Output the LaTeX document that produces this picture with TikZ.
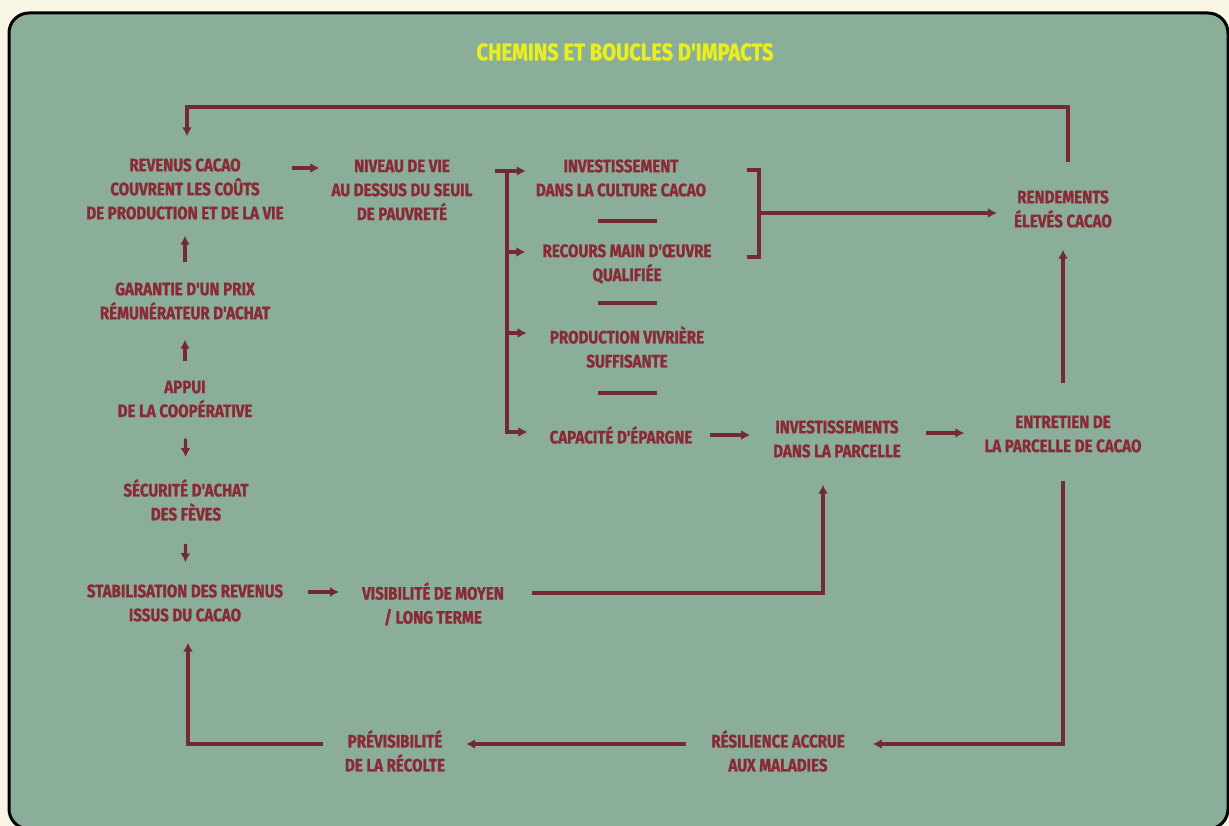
\documentclass[tikz,border=0pt]{standalone}
\usepackage{fontspec}
\usetikzlibrary{arrows.meta,calc}
\newfontfamily\condfont{Fira Sans}[FakeStretch=0.84, BoldFeatures={FakeBold=1.2}]
\newfontfamily\titlefont{Fira Sans}[FakeStretch=0.84, BoldFeatures={FakeBold=1.2}]
\definecolor{cream}{RGB}{249,245,229}
\definecolor{panel}{RGB}{139,174,155}
\definecolor{txtred}{RGB}{138,42,54}
\definecolor{linered}{RGB}{115,42,50}
\definecolor{titleyellow}{RGB}{232,238,32}
\begin{document}
\begin{tikzpicture}[x=1pt,y=-1pt,
  lbl/.style={font=\condfont\bfseries\fontsize{18}{24}\selectfont, text=txtred, align=center, inner sep=0pt},
  conn/.style={draw=linered, line width=3.2pt, -{Latex[length=9pt,width=10pt]}},
  plain/.style={draw=linered, line width=3.2pt}]
\useasboundingbox (0,0) rectangle (1229,826);
\begin{scope}
\clip (0,0) rectangle (1229,826);
\fill[cream] (0,0) rectangle (1229,826);
\draw[black, line width=3pt, fill=panel, rounded corners=20pt] (9,13) rectangle (1228,829);
\end{scope}
\node[font=\titlefont\bfseries\fontsize{24}{26}\selectfont, text=titleyellow, inner sep=0pt] (title) at (625,52) {CHEMINS ET BOUCLES D'IMPACTS};
% left column
\node[lbl] (rev) at (185,189) {REVENUS CACAO\\COUVRENT LES COÛTS\\DE PRODUCTION ET DE LA VIE};
\node[lbl] (gar) at (185,301) {GARANTIE D'UN PRIX\\RÉMUNÉRATEUR D'ACHAT};
\node[lbl] (app) at (185,399) {APPUI\\DE LA COOPÉRATIVE};
\node[lbl] (sec) at (186,500) {SÉCURITÉ D'ACHAT\\DES FÈVES};
\node[lbl] (stab) at (185,603) {STABILISATION DES REVENUS\\ISSUS DU CACAO};
% middle
\node[lbl] (niv) at (402,190) {NIVEAU DE VIE\\AU DESSUS DU SEUIL\\DE PAUVRETÉ};
\node[lbl] (inv1) at (621,178) {INVESTISSEMENT\\DANS LA CULTURE CACAO};
\node[lbl] (rec) at (627,264) {RECOURS MAIN D'ŒUVRE\\QUALIFIÉE};
\node[lbl] (prod) at (627,347) {PRODUCTION VIVRIÈRE\\SUFFISANTE};
\node[lbl] (cap) at (621,435) {CAPACITÉ D'ÉPARGNE};
\node[lbl] (invp) at (837,439) {INVESTISSEMENTS\\DANS LA PARCELLE};
\node[lbl] (vis) at (433,604) {VISIBILITÉ DE MOYEN\\/ LONG TERME};
% right
\node[lbl] (rend) at (1063,209) {RENDEMENTS\\ÉLEVÉS CACAO};
\node[lbl] (ent) at (1063,434) {ENTRETIEN DE\\LA PARCELLE DE CACAO};
% bottom
\node[lbl] (prev) at (395,751) {PRÉVISIBILITÉ\\DE LA RÉCOLTE};
\node[lbl] (res) at (778,751) {RÉSILIENCE ACCRUE\\AUX MALADIES};
% coordinates
\coordinate (spt) at (507,171);
\coordinate (brt) at (759,170);
\coordinate (brb) at (759,257);
\coordinate (brm) at (759,213);
\coordinate (looptop) at (600,107);
% separators
\draw[plain] (598,221) -- (657,221);
\draw[plain] (598,303) -- (657,303);
\draw[plain] (598,393) -- (657,393);
% left column arrows
\draw[conn, shorten <=20pt, shorten >=16pt] (gar.north) -- (rev.south);
\draw[conn, shorten <=19pt, shorten >=20pt] (app.north) -- (gar.south);
\draw[conn, shorten <=21pt, shorten >=22pt] (app.south) -- (sec.north);
\draw[conn, shorten <=23pt, shorten >=22pt] (sec.south) -- (stab.north);
% rev -> niv
\draw[conn, shorten <=8pt, shorten >=12pt] ([yshift=21pt]rev.east) -- ([yshift=21pt]rev.east -| niv.west);
% niv -> bracket
\draw[conn, shorten <=22pt, shorten >=10pt] ([yshift=19pt]niv.east) -- ([yshift=19pt]niv.east -| inv1.west);
\draw[conn, shorten >=22pt] (spt) |- ([yshift=3pt]cap.west);
\draw[conn, shorten >=17pt] ([yshift=12pt]rec.west -| spt) -- ([yshift=12pt]rec.west);
\draw[conn, shorten >=23pt] ([yshift=14pt]prod.west -| spt) -- ([yshift=14pt]prod.west);
% right bracket
\draw[plain] ([xshift=-12pt]brt) -- (brt) -- (brb) -- ([xshift=-12pt]brb);
\draw[conn, shorten >=17pt] (brm) -- (brm -| rend.west);
% chain
\draw[conn, shorten <=17pt, shorten >=23pt] (cap.east) -- (cap.east -| invp.west);
\draw[conn, shorten <=25pt, shorten >=20pt] ([yshift=6pt]invp.east) -- ([yshift=6pt]invp.east -| ent.west);
\draw[conn, shorten <=32pt, shorten >=22pt] (ent.north) -- (rend.south);
\draw[conn, shorten <=28pt, shorten >=22pt] ([xshift=5pt]rend.north) |- (looptop) -| ([xshift=2pt]rev.north);
\draw[conn, shorten <=28pt, shorten >=28pt] (ent.south) |- ([yshift=7pt]res.east);
\draw[conn, shorten <=25pt, shorten >=21pt] ([yshift=7pt]res.west) -- ([yshift=7pt]res.west -| prev.east);
\draw[conn, shorten <=22pt, shorten >=21pt] ([yshift=7pt]prev.west) -| ([xshift=3pt]stab.south);
\draw[conn, shorten <=25pt, shorten >=23pt] ([yshift=11pt]stab.east) -- ([yshift=11pt]stab.east -| vis.west);
\draw[conn, shorten <=28pt, shorten >=27pt] ([yshift=11pt]vis.east) -| ([xshift=-14pt]invp.south);
\end{tikzpicture}
\end{document}
